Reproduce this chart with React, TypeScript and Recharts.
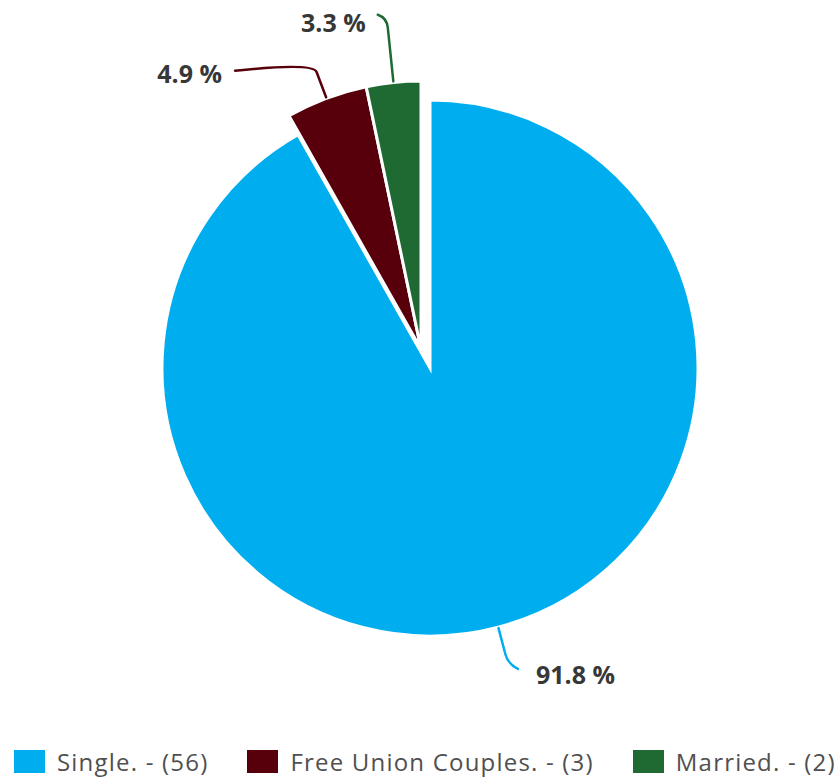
import { PieChart, Pie, Cell } from 'recharts';

const categories = ['Single.', 'Free Union Couples.', 'Married.'];
const counts = [56, 3, 2];
const colors = ['#00AEEF', '#57000B', '#1F6A33'];
const exploded = [false, true, true];

const data = categories.map((name, i) => ({ name, value: counts[i] }));

const RADIAN = Math.PI / 180;

// where each label line bends and where its text sits
const labelLayout = [
  { ext: 38, endDx: 10, endDy: 5, textDx: 18, textDy: 5, anchor: 'start' },
  { ext: 38, endDx: -78, endDy: 8, textDx: -13, textDy: 2, anchor: 'end' },
  { ext: 65, endDx: -9, endDy: -3, textDx: -12, textDy: 7, anchor: 'end' },
];

const makeLabel = (showExploded: boolean) => (props: any) => {
  const { cx, cy, midAngle, outerRadius, index, percent } = props;
  if (exploded[index] !== showExploded) return null;
  const lay = labelLayout[index];
  const cos = Math.cos(-midAngle * RADIAN);
  const sin = Math.sin(-midAngle * RADIAN);
  const at = (r: number) => [cx + r * cos, cy + r * sin];
  const [sx, sy] = at(outerRadius + 1);
  const [p1x, p1y] = at(outerRadius + lay.ext - 10);
  const [p2x, p2y] = at(outerRadius + lay.ext);
  const ex = p2x + lay.endDx;
  const ey = p2y + lay.endDy;
  return (
    <g>
      <path
        d={`M${sx},${sy} L${p1x},${p1y} Q${p2x},${p2y} ${ex},${ey}`}
        stroke={colors[index]}
        strokeWidth={2.5}
        fill="none"
        strokeLinecap="round"
      />
      <text
        x={ex + lay.textDx}
        y={ey + lay.textDy}
        textAnchor={lay.anchor as any}
        dominantBaseline="central"
        fill="#373737"
        fontFamily="'Open Sans', sans-serif"
        fontWeight={700}
        fontSize={25}
      >
        {(percent * 100).toFixed(1)} %
      </text>
    </g>
  );
};

export default function App() {
  return (
    <div style={{ position: 'absolute', left: 0, top: 0, width: 836, height: 781, background: '#fff' }}>
      <PieChart width={836} height={730} margin={{ top: 0, right: 0, bottom: 0, left: 0 }}>
        <Pie
          data={data}
          dataKey="value"
          nameKey="name"
          cx={430}
          cy={368}
          outerRadius={268}
          startAngle={90}
          endAngle={-270}
          stroke="#fff"
          strokeWidth={3}
          isAnimationActive={false}
          labelLine={false}
          label={makeLabel(false)}
        >
          {data.map((d, i) => (
            <Cell key={d.name} fill={exploded[i] ? 'none' : colors[i]} stroke={exploded[i] ? 'none' : '#fff'} />
          ))}
        </Pie>
        <Pie
          data={data}
          dataKey="value"
          nameKey="name"
          cx={421}
          cy={349}
          outerRadius={268}
          startAngle={90}
          endAngle={-270}
          stroke="#fff"
          strokeWidth={3}
          isAnimationActive={false}
          labelLine={false}
          label={makeLabel(true)}
        >
          {data.map((d, i) => (
            <Cell key={d.name} fill={exploded[i] ? colors[i] : 'none'} stroke={exploded[i] ? '#fff' : 'none'} />
          ))}
        </Pie>
      </PieChart>
      <div
        style={{
          position: 'absolute',
          left: 14,
          top: 750,
          display: 'flex',
          alignItems: 'center',
          fontFamily: "'Open Sans', sans-serif",
          fontSize: 24,
          letterSpacing: 1.2,
          color: '#505050',
          whiteSpace: 'nowrap',
        }}
      >
        {data.map((d, i) => (
          <div key={d.name} style={{ display: 'flex', alignItems: 'center', marginRight: 39 }}>
            <span style={{ display: 'inline-block', width: 31, height: 23, background: colors[i], marginRight: 12 }} />
            <span style={{ lineHeight: '23px' }}>
              {d.name} - ({d.value})
            </span>
          </div>
        ))}
      </div>
    </div>
  );
}
